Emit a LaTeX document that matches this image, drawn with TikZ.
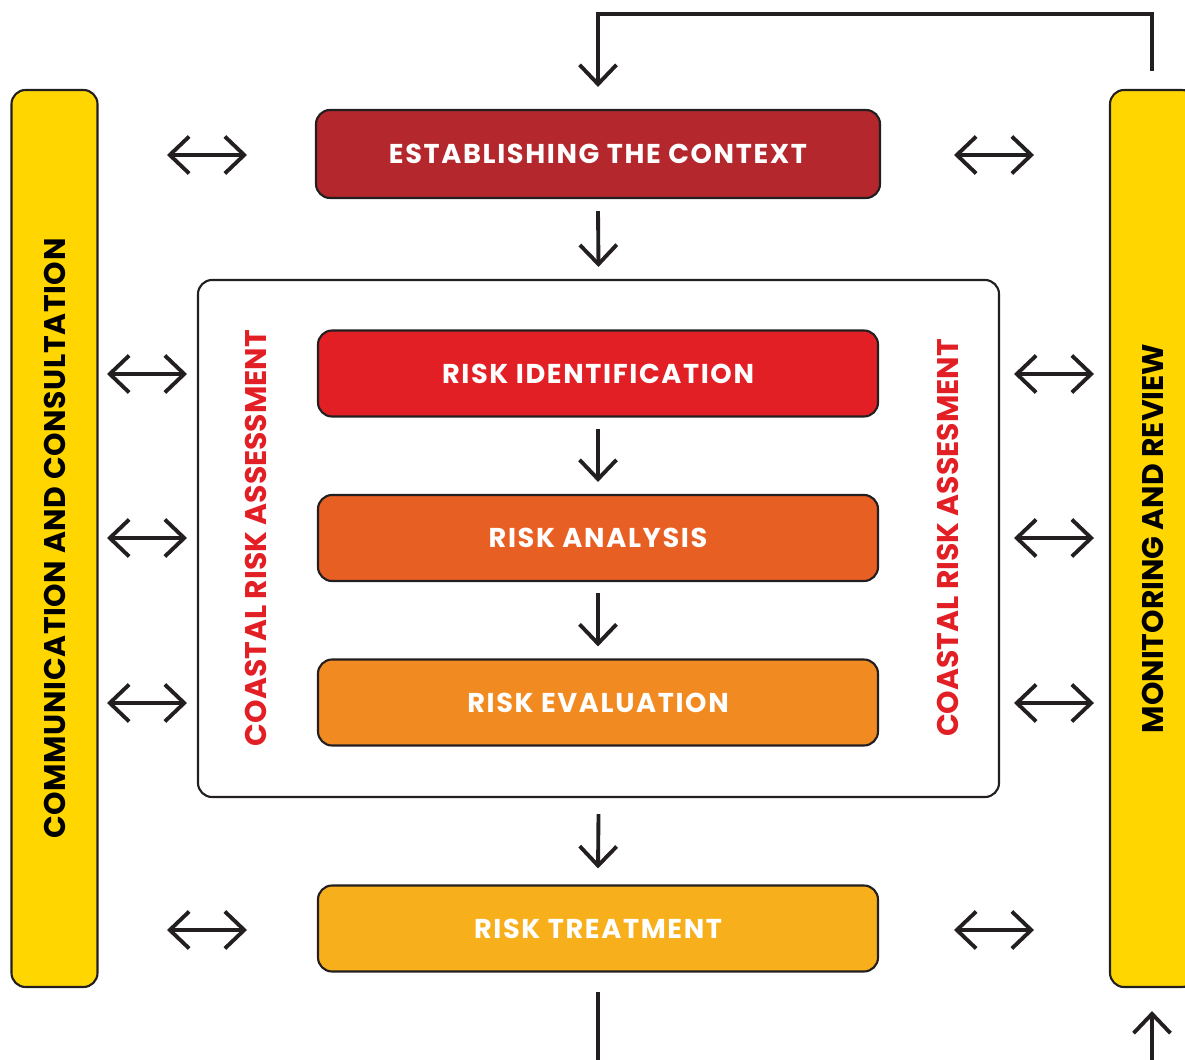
\documentclass[tikz,border=0pt]{standalone}
\usepackage{fontspec}
\setmainfont{Poppins}
\usetikzlibrary{arrows.meta}

\definecolor{contextred}{HTML}{B3272D}
\definecolor{identred}{HTML}{E31F26}
\definecolor{analysisorange}{HTML}{E85F24}
\definecolor{evalorange}{HTML}{F18A21}
\definecolor{treatorange}{HTML}{F7B01B}
\definecolor{sideyellow}{HTML}{FFD600}
\definecolor{inkline}{HTML}{231F20}

\tikzset{
	stepbox/.style={draw=inkline, line width=1.2pt, rounded corners=8pt, minimum width=560*0.02cm, minimum height=86*0.02cm, text=white, font=\bfseries\fontsize{15.5}{18}\selectfont\addfontfeatures{LetterSpace=6}},
	sidebar/.style={draw=inkline, line width=1.2pt, fill=sideyellow, rounded corners=8pt, minimum width=86*0.02cm, minimum height=897*0.02cm},
	flow/.style={draw=inkline, line width=2.2pt, -{Straight Barb[length=11pt, width=21pt]}},
	dbl/.style={draw=inkline, line width=2.2pt, {Straight Barb[length=11pt, width=21pt]}-{Straight Barb[length=11pt, width=21pt]}},
	sidetext/.style={rotate=90, font=\bfseries\fontsize{17}{20}\selectfont}
}

\begin{document}
\begin{tikzpicture}[x=0.02cm, y=-0.02cm]
		\useasboundingbox (0,0) rectangle (1185,1060);
		% side bars
		\node[sidebar] (comm) at (54.5,538.5) {};
		\node[sidebar] (monitor) at (1153,538.5) {};
		\node[sidetext] at (comm) {\addfontfeatures{LetterSpace=2}COMMUNICATION AND CONSULTATION};
		\node[sidetext] at (monitor) {MONITORING AND REVIEW};
		% assessment frame
		\node[draw=inkline, line width=1.2pt, rounded corners=8pt, minimum width=801*0.02cm, minimum height=517*0.02cm] (frame) at (598.5,538.5) {};
		\node[sidetext, text=identred] at (256,538) {COASTAL RISK ASSESSMENT};
		\node[sidetext, text=identred] at (948,538) {COASTAL RISK ASSESMENT};
		% process steps
		\node[stepbox, fill=contextred, minimum width=564*0.02cm, minimum height=88*0.02cm] (context) at (598,154) {ESTABLISHING THE CONTEXT};
		\node[stepbox, fill=identred] (ident) at (598,373.5) {RISK IDENTIFICATION};
		\node[stepbox, fill=analysisorange] (analysis) at (598,538) {RISK ANALYSIS};
		\node[stepbox, fill=evalorange] (eval) at (598,702.5) {RISK EVALUATION};
		\node[stepbox, fill=treatorange] (treat) at (598,928.5) {RISK TREATMENT};
		% downward flow
		\draw[flow] ([yshift=-12*0.02cm]context.south) -- ([yshift=12*0.02cm]frame.north);
		\draw[flow] ([yshift=-11*0.02cm]ident.south) -- ([yshift=12*0.02cm]analysis.north);
		\draw[flow] ([yshift=-11*0.02cm]analysis.south) -- ([yshift=12*0.02cm]eval.north);
		\draw[flow] ([yshift=-16*0.02cm]frame.south) -- ([yshift=16*0.02cm]treat.north);
		% feedback loop
		\coordinate (loopout) at (598,1060);
		\coordinate (loopin) at (1152,1060);
		\draw[inkline, line width=2.2pt] ([yshift=-19*0.02cm]treat.south) -- (loopout);
		\draw[flow] (loopin) -- ([yshift=-23*0.02cm]monitor.south -| loopin);
		\coordinate (looptop) at (1152,14);
		\draw[flow] ([yshift=18*0.02cm]monitor.north -| looptop) |- (looptop) -| ([yshift=22*0.02cm]context.north);
		% exchange arrows
		\foreach \y [count=\n] in {155,930}{
			\coordinate (cl\n) at (167,\y);
			\coordinate (cr\n) at (954,\y);
			\draw[dbl] (cl\n) -- ++(80,0);
			\draw[dbl] (cr\n) -- ++(80,0);
		}
		\foreach \y [count=\n] in {374,538,703}{
			\coordinate (fl\n) at (107,\y);
			\coordinate (fr\n) at (1014,\y);
			\draw[dbl] (fl\n) -- ++(80,0);
			\draw[dbl] (fr\n) -- ++(80,0);
		}
	\end{tikzpicture}
\end{document}
